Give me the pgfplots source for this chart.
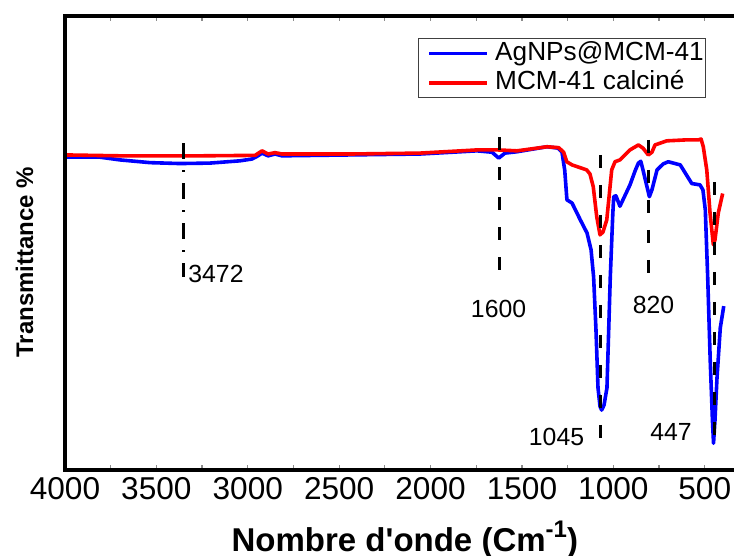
\documentclass[border=0pt]{standalone}
\usepackage{pgfplots}
\pgfplotsset{compat=1.18}
\usepackage{fontspec}
\setmainfont{Liberation Sans}

\begin{document}
\begin{tikzpicture}
\begin{axis}[
  scale only axis, width=334.5pt, height=227pt,
  at={(0,0)}, anchor=south west,
  x dir=reverse, xmin=340, xmax=4000, ymin=0, ymax=100,
  clip=false,
  axis line style={draw=none},
  xtick={500,1000,...,4000},
  minor xtick={750,1250,...,3750},
  ytick=\empty,
  tick align=inside,
  major tick length=2.5pt, minor tick length=2.5pt,
  tick style={black!45, line width=0.6pt},
  /pgf/number format/assume math mode=true,
  /pgf/number format/1000 sep={},
  xticklabel style={font=\fontsize{15.8}{18}\selectfont, inner sep=0pt, yshift=-3.5pt},
  xlabel={\textbf{Nombre d\textquotesingle onde (Cm\raisebox{0.45em}{\fontsize{12}{14}\selectfont -1})}},
  xlabel style={font=\fontsize{16.5}{19}\selectfont, at={(axis description cs:0.508,-0.1806)}, anchor=base},
  ylabel={\textbf{Transmittance \%}},
  ylabel style={font=\fontsize{12}{14}\selectfont, at={(axis description cs:-0.0478,0.458)}, anchor=base},
  legend style={at={(axis description cs:0.5277,0.9515)}, anchor=north west, draw=black!75, line width=0.6pt, inner sep=0pt, font=\fontsize{13.1}{15}\selectfont, nodes={inner sep=1pt, text height=9.8pt, text depth=3pt}},
  legend cell align=left,
  legend image code/.code={\path (0pt,0pt) (35.5pt,0pt); \draw[#1] (4.5pt,0pt) -- (33.5pt,0pt);},
]
\addplot[blue, line width=1.8pt, line join=round] coordinates {
(4000,68.9) (3808,68.9) (3699,68.3) (3535,67.7) (3371,67.5) (3207,67.6) (3043,68.1) (2977,68.5) (2944,69.2) (2922,69.8) (2889,69.2) (2851,69.6) (2813,69.2) (2441,69.4) (2058,69.6) (1746,70.3) (1664,70.0) (1627,68.7) (1593,69.8) (1527,70.1) (1363,71.2) (1303,70.9) (1281,70.0) (1266,66.0) (1254,59.5) (1226,58.8) (1181,55.1) (1144,52.2) (1122,48.5) (1108,42.5) (1095,30.8) (1084,18.1) (1073,14.0) (1064,13.2) (1051,14.3) (1035,18.1) (1017,42.3) (1003,56.5) (998,60.2) (986,60.4) (964,58.1) (909,62.8) (880,66.0) (863,67.6) (850,68.0) (838,66.1) (803,60.2) (789,61.7) (761,66.1) (728,67.4) (700,67.9) (681,67.7) (634,67.2) (571,63.1) (526,62.8) (510,61.7) (497,57.3) (484,42.6) (470,24.0) (458,11.0) (452,5.9) (444,11.0) (433,20.3) (415,31.3) (396,36.1)
};
\addlegendentry{AgNPs@MCM-41}
\addplot[red, line width=1.8pt, line join=round] coordinates {
(4000,69.4) (3699,69.2) (3261,69.2) (2960,69.3) (2922,70.3) (2889,69.6) (2851,69.9) (2813,69.6) (2441,69.6) (2058,69.8) (1746,70.5) (1631,70.5) (1527,70.3) (1363,71.2) (1299,71.0) (1272,70.0) (1255,67.9) (1226,67.2) (1146,66.1) (1128,65.2) (1110,62.4) (1091,55.8) (1073,51.8) (1057,52.4) (1036,55.1) (1009,66.1) (991,67.9) (964,68.3) (909,70.5) (863,71.6) (838,70.9) (809,69.4) (789,70.0) (772,71.6) (708,72.5) (608,72.7) (535,72.7) (520,72.9) (508,71.2) (489,66.1) (471,56.6) (453,49.6) (444,50.7) (426,56.6) (402,60.9)
};
\addlegendentry{MCM-41 calcin\'e}
\addplot[forget plot, black, line width=1.6pt, dash pattern=on 8pt off 5.5pt on 1pt off 5.5pt] coordinates {(3353,72.0) (3353,42.5)};
\addplot[forget plot, black, line width=1.8pt, dash pattern=on 6.5pt off 8.5pt] coordinates {(1622,73.3) (1622,42.7)};
\addplot[forget plot, black, line width=1.8pt, dash pattern=on 6.5pt off 8.5pt] coordinates {(1071,69.4) (1071,4.4)};
\addplot[forget plot, black, line width=1.8pt, dash pattern=on 6.5pt off 8.5pt] coordinates {(807,72.7) (807,42.5)};
\addplot[forget plot, black, line width=1.8pt, dash pattern=on 6.5pt off 8.5pt] coordinates {(446,63.4) (446,5.9)};
\node[anchor=base west, font=\fontsize{12.4}{14}\selectfont, inner sep=0pt] at (axis cs:3327,41.2) {3472};
\node[anchor=base, font=\fontsize{12.4}{14}\selectfont, inner sep=0pt] at (axis cs:1628,33.5) {1600};
\node[anchor=base, font=\fontsize{12.4}{14}\selectfont, inner sep=0pt] at (axis cs:780,34.4) {820};
\node[anchor=base, font=\fontsize{12.4}{14}\selectfont, inner sep=0pt] at (axis cs:1311,5.3) {1045};
\node[anchor=base, font=\fontsize{12.4}{14}\selectfont, inner sep=0pt] at (axis cs:685,6.4) {447};
\draw[line width=1.6pt, line join=miter] (axis description cs:1,1) -- (axis description cs:0,1) -- (axis description cs:0,0) -- (axis description cs:1,0);
\end{axis}
\pgfresetboundingbox
\useasboundingbox (-32.5pt,-43pt) rectangle (334.5pt,235pt);
\end{tikzpicture}
\end{document}
